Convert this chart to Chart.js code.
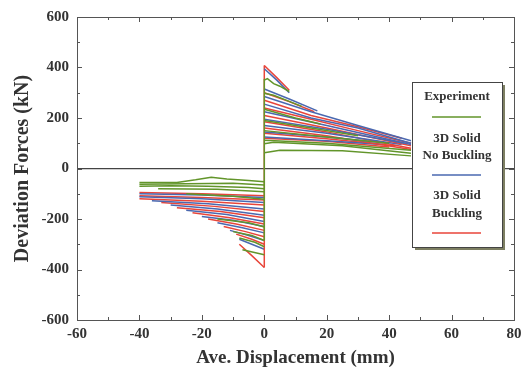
<!DOCTYPE html>
<html>
<head>
<meta charset="utf-8">
<script src="https://cdn.jsdelivr.net/npm/chart.js@4/dist/chart.umd.min.js"></script>
<style>
  html, body { margin: 0; padding: 0; background: #fff; }
  #wrap { width: 529px; height: 369px; position: relative; }
</style>
</head>
<body>
<div id="wrap"><canvas id="hyst"></canvas></div>
<script>
// axis ranges and ticks
const xTicks = [-60, -40, -20, 0, 20, 40, 60, 80];
const yTicks = [-600, -400, -200, 0, 200, 400, 600];

// Experiment branches, [displacement mm, force kN]
const expBranches = [
    [[0, -285], [0, 355]],
    [[0, 350], [1, 356], [3, 336], [5, 326], [8, 305]],
    [[0, 298], [3, 290], [8, 266], [12, 246]],
    [[0, 235], [10, 200], [18, 176]],
    [[0, 190], [15, 160], [30, 130]],
    [[0, 150], [20, 125], [40, 100]],
    [[0, 112], [20, 100], [47, 72]],
    [[0, 98], [3, 104], [25, 90], [47, 60]],
    [[0, 62], [5, 72], [25, 70], [47, 50]],
    [[-40, -55], [-28, -55], [-22, -45], [-17, -35], [-12, -42], [-5, -48], [0, -52]],
    [[-40, -62], [-25, -60], [-10, -58], [0, -65]],
    [[-40, -70], [-30, -68], [-18, -70], [-5, -75], [0, -80]],
    [[-34, -80], [-15, -82], [0, -92]],
    [[-25, -100], [-10, -110], [0, -122]],
    [[-15, -200], [-5, -215], [0, -232]],
    [[-10, -250], [-4, -265], [0, -285]],
    [[-8, -275], [-3, -292], [0, -310]],
    [[-7, -322], [0, -342]]
];

// 3D Solid No Buckling branches
const noBuckBranches = [
    [[0, 395], [4, 350], [8, 300]],
    [[0, 315], [8, 275], [17, 228]],
    [[0, 285], [15, 225], [30, 170], [47, 110]],
    [[0, 255], [15, 200], [30, 160], [47, 100]],
    [[0, 225], [20, 170], [47, 95]],
    [[0, 195], [20, 155], [45, 100]],
    [[0, 170], [20, 140], [44, 95]],
    [[0, 145], [20, 125], [40, 100]],
    [[0, 125], [20, 110], [38, 95]],
    [[-40, -100], [-20, -105], [0, -115]],
    [[-40, -112], [-20, -120], [0, -135]],
    [[-36, -128], [-18, -140], [0, -160]],
    [[-30, -145], [-15, -160], [0, -185]],
    [[-25, -165], [-12, -182], [0, -210]],
    [[-20, -190], [-10, -205], [0, -230]],
    [[-15, -215], [-7, -235], [0, -255]],
    [[-11, -245], [-5, -265], [0, -285]],
    [[-8, -280], [0, -320]]
];

// 3D Solid Buckling branches
const buckBranches = [
    [[0, -392], [0, 408]],
    [[0, 408], [4, 360], [8, 310]],
    [[0, 300], [8, 265], [16, 225]],
    [[0, 270], [15, 210], [30, 165], [44, 120]],
    [[0, 240], [15, 195], [30, 150], [47, 100]],
    [[0, 210], [20, 160], [47, 90]],
    [[0, 185], [20, 145], [47, 80]],
    [[0, 160], [20, 130], [47, 75]],
    [[0, 140], [20, 118], [42, 90]],
    [[0, 120], [20, 108], [40, 85]],
    [[-40, -95], [-20, -100], [0, -108]],
    [[-40, -108], [-20, -115], [0, -125]],
    [[-40, -120], [-20, -130], [0, -145]],
    [[-33, -135], [-16, -150], [0, -170]],
    [[-28, -155], [-14, -170], [0, -195]],
    [[-23, -175], [-11, -195], [0, -220]],
    [[-18, -200], [-9, -220], [0, -245]],
    [[-13, -230], [-6, -250], [0, -270]],
    [[-9, -260], [-4, -280], [0, -300]],
    [[-8, -300], [-4, -345], [0, -392]]
];

const seriesNames = ['Experiment', '3D Solid\nNo Buckling', '3D Solid\nBuckling'];
const seriesColors = ['#62952a', '#4a68b0', '#e8453a'];

const FONT = '"Liberation Serif", "DejaVu Serif", serif';

function branchSet(branches, color) {
    return branches.map(b => ({
        data: b.map(p => ({ x: p[0], y: p[1] })),
        showLine: true,
        borderColor: color,
        borderWidth: 1.5,
        pointRadius: 0,
        fill: false
    }));
}

let datasets = branchSet(expBranches, seriesColors[0]);
let blue = branchSet(noBuckBranches, seriesColors[1]);
let red = branchSet(buckBranches, seriesColors[2]);
for (let i = 0; i < Math.max(blue.length, red.length); i += 1) {
    if (blue[i]) datasets.push(blue[i]);
    if (red[i]) datasets.push(red[i]);
}

// frame, inward ticks and the boxed legend
const framePlugin = {
    id: 'frame',
    afterDatasetsDraw(chart) {
        const ctx = chart.ctx;
        const a = chart.chartArea;
        const xs = chart.scales.x, ys = chart.scales.y;
        ctx.save();
        ctx.strokeStyle = '#555';
        ctx.lineWidth = 1;
        ctx.strokeRect(a.left + 0.5, a.top + 0.5, a.right - a.left, a.bottom - a.top);
        for (let v = -60; v <= 80; v += 10) {
            let px = Math.round(xs.getPixelForValue(v)) + 0.5;
            let len = v % 20 === 0 ? 5 : 3;
            ctx.beginPath();
            ctx.moveTo(px, a.bottom); ctx.lineTo(px, a.bottom - len);
            ctx.moveTo(px, a.top); ctx.lineTo(px, a.top + len);
            ctx.stroke();
        }
        for (let v = -600; v <= 600; v += 100) {
            let py = Math.round(ys.getPixelForValue(v)) + 0.5;
            let len = v % 200 === 0 ? 5 : 3;
            ctx.beginPath();
            ctx.moveTo(a.left, py); ctx.lineTo(a.left + len, py);
            ctx.moveTo(a.right, py); ctx.lineTo(a.right - len, py);
            ctx.stroke();
        }

        // legend box with shadow
        const bx = 412, by = 82, bw = 90, bh = 165;
        ctx.fillStyle = '#7d7f62';
        ctx.fillRect(bx + 3, by + 3, bw, bh);
        ctx.fillStyle = '#fff';
        ctx.fillRect(bx, by, bw, bh);
        ctx.strokeStyle = '#444';
        ctx.strokeRect(bx + 0.5, by + 0.5, bw, bh);

        ctx.fillStyle = '#333';
        ctx.font = 'bold 13px ' + FONT;
        ctx.textAlign = 'center';
        ctx.textBaseline = 'middle';
        const cx = bx + bw / 2;
        const textRows = [[97], [139, 156], [196, 214]];
        const lineRows = [117, 175, 233];
        seriesNames.forEach((name, i) => {
            name.split('\n').forEach((t, j) => ctx.fillText(t, cx, textRows[i][j]));
            ctx.strokeStyle = seriesColors[i];
            ctx.lineWidth = 1.5;
            ctx.beginPath();
            ctx.moveTo(bx + 20, lineRows[i]);
            ctx.lineTo(bx + 69, lineRows[i]);
            ctx.stroke();
        });
        ctx.restore();
    }
};

new Chart(document.getElementById('hyst'), {
    type: 'scatter',
    data: { datasets: datasets },
    options: {
        responsive: true,
        maintainAspectRatio: false,
        animation: false,
        layout: { padding: { top: 13, right: 15, left: 0, bottom: 0 } },
        plugins: { legend: { display: false }, tooltip: { enabled: false } },
        scales: {
            x: {
                type: 'linear',
                min: -60, max: 80,
                afterBuildTicks: s => { s.ticks = xTicks.map(v => ({ value: v })); },
                afterFit: s => { s.height = 49; },
                grid: { display: false, drawTicks: false },
                border: { display: false },
                ticks: { color: '#333', padding: 5, font: { family: FONT, size: 15, weight: 'bold' } },
                title: {
                    display: true, text: 'Ave. Displacement (mm)', color: '#333',
                    padding: { top: 0, bottom: 0 },
                    font: { family: FONT, size: 19, weight: 'bold' }
                }
            },
            y: {
                type: 'linear',
                min: -600, max: 600,
                afterBuildTicks: s => { s.ticks = yTicks.map(v => ({ value: v })); },
                afterFit: s => { s.width = 77; },
                grid: {
                    drawTicks: false,
                    color: c => c.tick && c.tick.value === 0 ? '#444' : 'rgba(0,0,0,0)',
                    lineWidth: 1.2
                },
                border: { display: false },
                ticks: { color: '#333', padding: 8, font: { family: FONT, size: 15, weight: 'bold' } },
                title: {
                    display: true, text: 'Deviation Forces (kN)', color: '#333',
                    padding: { top: 11, bottom: 0 },
                    font: { family: FONT, size: 20, weight: 'bold' }
                }
            }
        }
    },
    plugins: [framePlugin]
});
</script>
</body>
</html>
